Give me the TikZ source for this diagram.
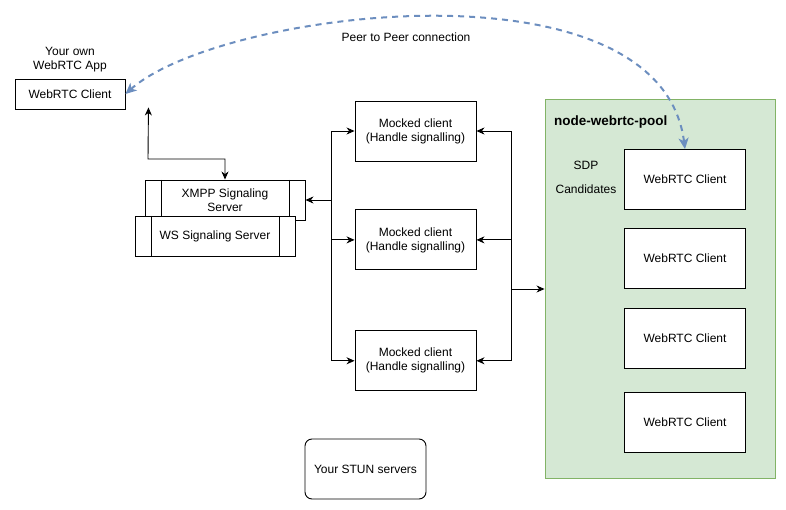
\documentclass[tikz,border=0pt]{standalone}
\usepackage{fontspec}
\setmainfont{Liberation Sans}
\usetikzlibrary{arrows.meta,positioning,calc}
\definecolor{poolgreen}{RGB}{213,232,212}
\definecolor{pooledge}{RGB}{130,179,102}
\definecolor{p2pblue}{RGB}{108,142,191}

\begin{document}
\begin{tikzpicture}[
    x=1pt, y=-1pt,
    font=\fontsize{12}{14}\selectfont,
    box/.style={rectangle, draw=black, line width=0.9pt, fill=white, minimum width=121pt, minimum height=60pt, align=center, inner sep=0pt},
    procbox/.style={box, minimum width=160pt, minimum height=40pt,
        path picture={
            \draw[line width=0.9pt] ([xshift=16pt]path picture bounding box.north west) -- ([xshift=16pt]path picture bounding box.south west);
            \draw[line width=0.9pt] ([xshift=-16pt]path picture bounding box.north east) -- ([xshift=-16pt]path picture bounding box.south east);}},
    pool/.style={rectangle, draw=pooledge, line width=0.9pt, fill=poolgreen, minimum width=230pt, minimum height=379pt},
    arrow/.style={-{Stealth[length=8pt,width=7pt,inset=2.5pt]}, line width=0.9pt},
    twoway/.style={{Stealth[length=8pt,width=7pt,inset=2.5pt]}-{Stealth[length=8pt,width=7pt,inset=2.5pt]}, line width=0.9pt},
    p2p/.style={{Stealth[length=11pt,width=10pt,inset=3pt]}-{Stealth[length=11pt,width=10pt,inset=3pt]}, draw=p2pblue, line width=2pt, dash pattern=on 6pt off 5pt}
]
\useasboundingbox (0,0) rectangle (786,510);

% Your own app
\node[box, minimum width=110pt, minimum height=30pt] (own) at (70,94) {WebRTC Client};
\node[above=3pt of own, align=center] (ownlabel) {Your own\\WebRTC App};

% Signaling servers
\node[procbox] (xmpp) at (225,200) {XMPP Signaling\\Server};
\node[procbox] (ws) at (215,236) {WS Signaling Server};

% Mocked clients
\node[box] (m1) at (415.5,131) {Mocked client\\(Handle signalling)};
\node[box, below=48pt of m1] (m2) {Mocked client\\(Handle signalling)};
\node[box, below=60pt of m2] (m3) {Mocked client\\(Handle signalling)};

% node-webrtc-pool
\node[pool] (pool) at (660,288.5) {};
\node[anchor=west, font=\fontsize{13.5}{16}\selectfont\bfseries] (pooltitle) at ([shift={(6,23)}]pool.north west) {node-webrtc-pool};
\node[align=center] (sdp) at (586,177) {SDP\\[10pt]Candidates};
\node[box] (p1) at (685,179.5) {WebRTC Client};
\node[box, below=18pt of p1] (p2) {WebRTC Client};
\node[box, below=19pt of p2] (p3) {WebRTC Client};
\node[box, below=23pt of p3] (p4) {WebRTC Client};

% STUN
\node[box, rounded corners=7pt] (stun) at (365.5,469) {Your STUN servers};

% Connectors
\coordinate (ownport) at ($(own.south east)+(23,-2)$);
\coordinate (bend) at (148,159);
\draw[twoway] (ownport) -- (bend) -| (xmpp.north);

\coordinate (lbus) at (331,200);
\draw[arrow] (lbus) -- (xmpp.east);
\draw[arrow] (lbus) |- (m1.west);
\draw[arrow] (lbus) |- (m2.west);
\draw[arrow] (lbus) |- (m3.west);

\coordinate (rbus) at (511,289);
\draw[arrow] (rbus) |- (m1.east);
\draw[arrow] (rbus) |- (m2.east);
\draw[arrow] (rbus) |- (m3.east);
\draw[arrow] (rbus) -- (rbus -| pool.west);

% Peer to peer
\draw[p2p] (p1.north) .. controls (660,-45) and (220,10) .. (own.east);
\node (p2plabel) at (406,37) {Peer to Peer connection};

\end{tikzpicture}
\end{document}
